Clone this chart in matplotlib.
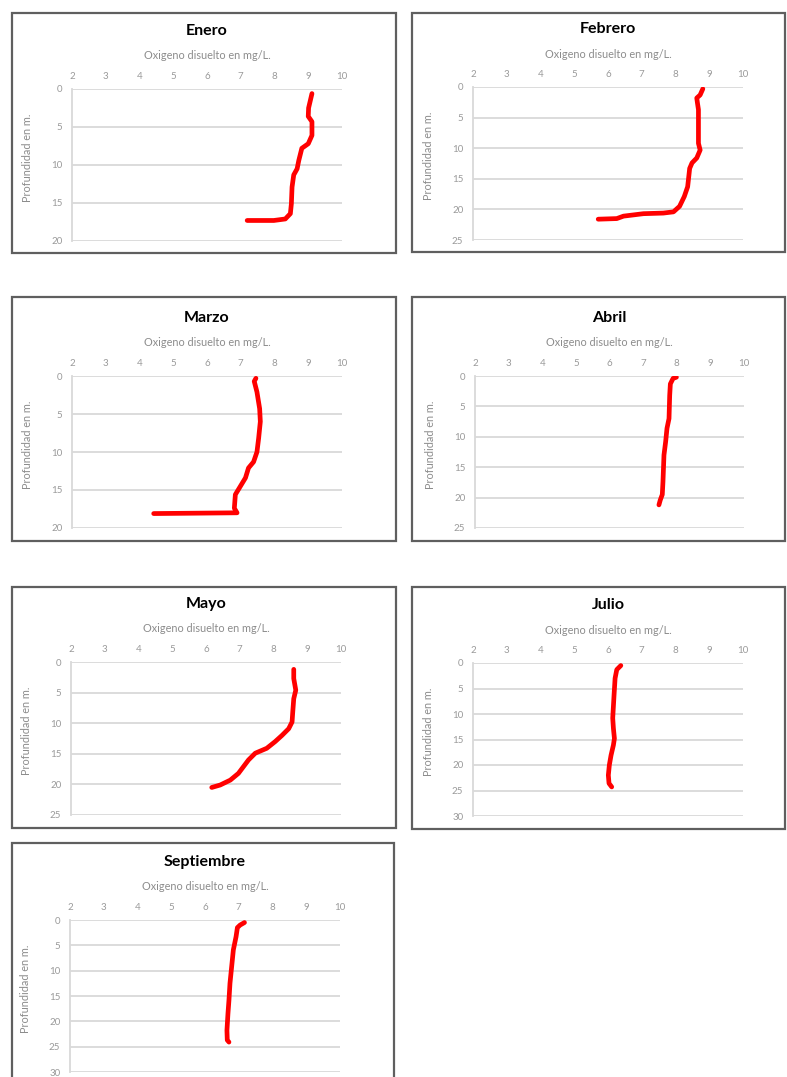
import matplotlib
matplotlib.use("Agg")
import matplotlib.pyplot as plt
from matplotlib.patches import Rectangle

plt.rcParams['font.family'] = ['Lato', 'DejaVu Sans']

W, H = 787, 1077

# dissolved oxygen (mg/L) vs depth (m) per month
meses = ["Enero", "Febrero", "Marzo", "Abril", "Mayo", "Julio", "Septiembre"]

enero_od = [9.11, 9.01, 9.00, 9.11, 9.11, 9.00, 8.81, 8.72, 8.67, 8.57, 8.52, 8.50, 8.47, 8.32, 7.98, 7.19]
enero_z = [0.6, 2.5, 3.6, 4.3, 6.1, 7.2, 7.8, 9.4, 10.5, 11.3, 12.9, 15.1, 16.4, 17.1, 17.3, 17.3]

febrero_od = [8.81, 8.73, 8.63, 8.65, 8.68, 8.68, 8.73, 8.63, 8.49, 8.42, 8.36, 8.26, 8.12, 7.94, 7.64, 7.05, 6.46, 6.26, 5.71]
febrero_z = [0.3, 1.3, 1.8, 2.6, 3.7, 9.2, 10.3, 11.6, 12.4, 13.3, 16.3, 17.9, 19.5, 20.4, 20.6, 20.7, 21.1, 21.5, 21.6]

marzo_od = [7.45, 7.40, 7.48, 7.56, 7.58, 7.53, 7.48, 7.38, 7.23, 7.14, 6.99, 6.84, 6.81, 6.89, 4.42]
marzo_z = [0.3, 0.7, 2.1, 4.3, 6.0, 8.2, 10.0, 11.3, 12.1, 13.4, 14.5, 15.6, 17.4, 18.0, 18.1]

abril_od = [7.99, 7.89, 7.81, 7.79, 7.77, 7.71, 7.67, 7.62, 7.59, 7.57, 7.51, 7.47]
abril_z = [0.2, 0.4, 1.3, 3.2, 7.0, 8.6, 10.8, 13.0, 17.4, 19.5, 20.4, 21.2]

mayo_od = [8.60, 8.60, 8.66, 8.60, 8.57, 8.55, 8.45, 8.25, 8.05, 7.80, 7.46, 7.26, 7.11, 6.96, 6.72, 6.42, 6.17]
mayo_z = [1.2, 2.7, 4.6, 6.0, 8.2, 9.8, 10.9, 12.0, 13.0, 14.1, 14.9, 16.0, 17.1, 18.2, 19.3, 20.1, 20.5]

julio_od = [6.38, 6.26, 6.21, 6.18, 6.14, 6.16, 6.19, 6.16, 6.09, 6.04, 6.01, 6.03, 6.11]
julio_z = [0.5, 1.3, 3.0, 6.2, 10.8, 12.8, 14.8, 16.1, 18.1, 20.0, 22.0, 23.6, 24.3]

septiembre_od = [7.17, 7.04, 6.96, 6.92, 6.84, 6.79, 6.74, 6.71, 6.68, 6.65, 6.66, 6.71]
septiembre_z = [0.5, 1.0, 1.5, 3.3, 5.9, 9.2, 12.5, 15.8, 18.5, 21.8, 23.7, 24.1]

series = [(enero_od, enero_z), (febrero_od, febrero_z), (marzo_od, marzo_z),
          (abril_od, abril_z), (mayo_od, mayo_z), (julio_od, julio_z),
          (septiembre_od, septiembre_z)]
prof_max = [20, 25, 20, 25, 25, 30, 30]

# pixel boxes: frame (x0, y0, x1, y1) and plot area (x0, y0, x1, y1)
marcos = [(12, 13, 396, 253), (412, 13, 785, 252),
          (12, 297, 396, 541), (412, 297, 785, 541),
          (12, 587, 396, 828), (412, 587, 785, 829),
          (12, 843, 394, 1090)]
areas = [(72, 89, 342, 241), (473, 87, 743, 240),
         (72, 376, 342, 528), (475, 376, 744, 528),
         (71, 662, 341, 815), (473, 663, 743, 816),
         (70, 920, 340, 1072)]


def px_rect(x0, y0, x1, y1):
    return [x0 / W, 1 - y1 / H, (x1 - x0) / W, (y1 - y0) / H]


fig = plt.figure(figsize=(W / 100, H / 100), dpi=100)

for mes, (od, z), zmax, marco, area in zip(meses, series, prof_max, marcos, areas):
    fx, fy, fw, fh = px_rect(*marco)
    fig.patches.append(Rectangle((fx, fy), fw, fh, transform=fig.transFigure,
                                 fill=False, edgecolor='#5f5f5f', lw=1.6))

    ax = fig.add_axes(px_rect(*area))
    ax.plot(od, z, color='#ff0000', lw=3.4, solid_capstyle='round',
            solid_joinstyle='round', zorder=3)
    ax.set_xlim(2, 10)
    ax.set_ylim(zmax, 0)
    ax.set_xticks(range(2, 11))
    ax.set_yticks(range(0, zmax + 1, 5))
    ax.xaxis.tick_top()
    ax.grid(axis='y', color='#d9d9d9', lw=1.3)
    ax.set_axisbelow(True)
    for s in ['top', 'right', 'bottom']:
        ax.spines[s].set_visible(False)
    ax.spines['left'].set_color('#d9d9d9')
    ax.spines['left'].set_linewidth(1.3)
    ax.tick_params(length=0, labelsize=7, labelcolor='#9a9a9a')
    ax.tick_params(axis='x', pad=6)
    ax.tick_params(axis='y', pad=7)

    ax.set_ylabel("Profundidad en m.", fontsize=7.8, color='#8c8c8c')
    ax.yaxis.set_label_coords(-0.145, 0.55)
    ax.annotate("Oxigeno disuelto en mg/L.", xy=(0.5, 1), xycoords='axes fraction',
                xytext=(0, 33), textcoords='offset pixels', ha='center', va='center',
                fontsize=7.8, color='#8c8c8c')
    ax.annotate(mes, xy=(0.5, 1), xycoords='axes fraction',
                xytext=(0, 58), textcoords='offset pixels', ha='center', va='center',
                fontsize=11.5, fontweight='bold', color='#000000')

fig.savefig("out.png", dpi=100)
